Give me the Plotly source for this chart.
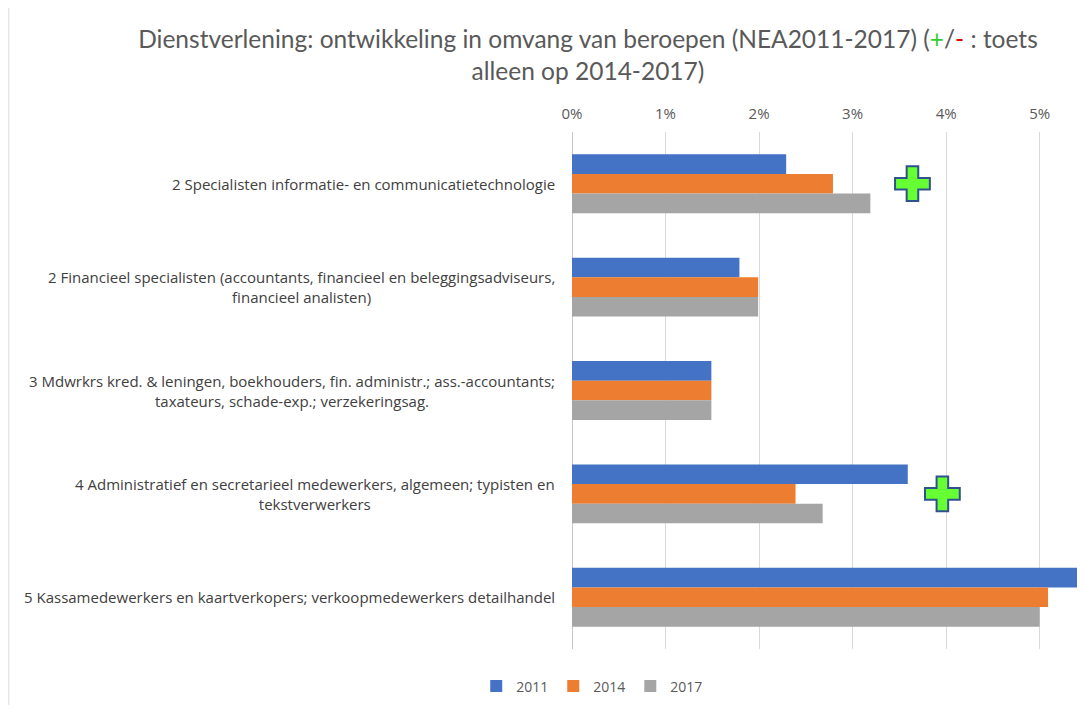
import plotly.graph_objects as go

categories = [
    "2 Specialisten informatie- en communicatietechnologie",
    "2 Financieel specialisten (accountants, financieel en beleggingsadviseurs,<br>financieel analisten)",
    "3 Mdwrkrs kred. & leningen, boekhouders, fin. administr.; ass.-accountants;<br>taxateurs, schade-exp.; verzekeringsag.",
    "4 Administratief en secretarieel medewerkers, algemeen; typisten en<br>tekstverwerkers",
    "5 Kassamedewerkers en kaartverkopers; verkoopmedewerkers detailhandel",
]
years = ["2011", "2014", "2017"]
values_2011 = [0.0229, 0.0179, 0.0149, 0.0359, 0.0540]
values_2014 = [0.0279, 0.0199, 0.0149, 0.0239, 0.0509]
values_2017 = [0.0319, 0.0199, 0.0149, 0.0268, 0.0500]
colors = ["#4472c4", "#ed7d31", "#a5a5a5"]

# "+" markers (toets 2014-2017)
plus_categories = [categories[0], categories[3]]
plus_x = [0.0364, 0.0396]

fig = go.Figure()

for name, vals, col in zip(years, [values_2011, values_2014, values_2017], colors):
    fig.add_trace(
        go.Bar(
            x=vals,
            y=categories,
            orientation="h",
            name=name,
            marker=dict(color=col, line=dict(width=0)),
        )
    )

fig.add_trace(
    go.Scatter(
        x=plus_x,
        y=plus_categories,
        mode="markers",
        marker=dict(symbol="cross", size=29, color="#66ff33",
                    line=dict(color="#2f528f", width=2)),
        showlegend=False,
        hoverinfo="skip",
    )
)

for cat in categories:
    fig.add_annotation(
        x=0, xref="x", y=cat, yref="y",
        text=cat, showarrow=False, xanchor="right", align="center",
        xshift=-15, font=dict(family="Open Sans", size=15, color="#404040"),
    )

fig.update_layout(
    width=1077,
    height=701,
    paper_bgcolor="white",
    plot_bgcolor="white",
    font=dict(family="Open Sans", color="#595959"),
    title=dict(
        text="Dienstverlening: ontwikkeling in omvang van beroepen (NEA2011-2017) "
             "(<span style='color:#33cc33'>+</span>/<span style='color:#e00000'>-</span> : toets"
             "<br>alleen op 2014-2017)",
        x=0.5385, xanchor="center", y=0.943, yanchor="top",
        font=dict(family="Lato", size=24.5, color="#595959"),
    ),
    margin=dict(l=564, r=7, t=124, b=60),
    barmode="group",
    bargap=0.43,
    bargroupgap=0,
    legend=dict(orientation="h", x=0.04, xanchor="center", xref="paper",
                y=-0.0725, yanchor="middle", itemwidth=30,
                font=dict(family="Open Sans", size=14, color="#595959")),
    showlegend=True,
    shapes=[dict(type="line", xref="paper", yref="paper",
                 x0=-1.113, x1=-1.113, y0=-0.108, y1=1.241,
                 line=dict(color="#d9d9d9", width=1))],
)

fig.update_xaxes(
    range=[0, 0.0541],
    dtick=0.01,
    tickformat=".0%",
    side="top",
    showgrid=True,
    gridcolor="#d9d9d9",
    zeroline=True,
    zerolinecolor="#c8c8c8",
    zerolinewidth=1,
    ticks="",
    ticklabelstandoff=9,
    tickfont=dict(family="Open Sans", size=15, color="#595959"),
)
fig.update_yaxes(
    autorange="reversed",
    showticklabels=False,
    showgrid=False,
    ticks="",
)

fig.write_html("out.html")
